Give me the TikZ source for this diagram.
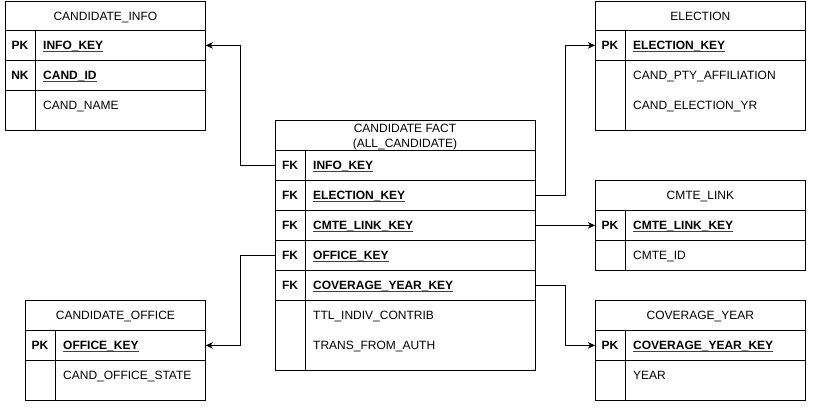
\documentclass[tikz,border=0pt]{standalone}
\usepackage{fontspec}
\setmainfont{Liberation Sans}
\usetikzlibrary{arrows.meta}
\newcommand\dfont{\fontsize{12}{14}\selectfont}
\newcommand\keyul[1]{\setbox0\hbox{\bfseries #1}\rlap{\color{black!75}\rule[-2.6pt]{\wd0}{0.9pt}}\box0}
\tikzset{
  cell/.style={draw, line width=0.8pt, anchor=north west, inner sep=0pt, minimum height=30,
    text height=8.6pt, text depth=0pt, font=\dfont},
  keyc/.style={anchor=center, inner sep=0pt, text height=8.6pt, text depth=0pt, font=\dfont\bfseries},
  fld/.style={anchor=west, inner sep=0pt, text height=8.6pt, text depth=0pt, font=\dfont},
  ttl/.style={anchor=center, inner sep=0pt, text height=8.6pt, text depth=0pt, font=\dfont},
  sep/.style={line width=0.8pt},
  conn/.style={line width=0.8pt, -{Stealth[length=7pt,width=6.5pt,inset=2pt]}}
}
\begin{document}
\begin{tikzpicture}[x=1pt,y=-1pt]
\useasboundingbox (0,0) rectangle (814,410);

% CANDIDATE_INFO
\node[cell, minimum width=200, minimum height=29] (info-h) at (5,1) {CANDIDATE\_INFO};
\node[cell, minimum width=200] (info-pk) at (5,30) {};
\node[cell, minimum width=200] (info-nk) at (5,60) {};
\node[cell, minimum width=200, minimum height=40] (info-b) at (5,90) {};
\draw[sep] (35,30) -- (35,130);
\node[keyc] (info-k1) at (20,45) {PK};
\node[fld] (info-f1) at (43,45) {\keyul{INFO\_KEY}};
\node[keyc] (info-k2) at (20,75) {NK};
\node[fld] (info-f2) at (43,75) {\keyul{CAND\_ID}};
\node[fld] (info-f3) at (43,105) {CAND\_NAME};

% ELECTION
\node[cell, minimum width=210, minimum height=29] (elec-h) at (595,1) {ELECTION};
\node[cell, minimum width=210] (elec-pk) at (595,30) {};
\node[cell, minimum width=210, minimum height=70] (elec-b) at (595,60) {};
\draw[sep] (625,30) -- (625,130);
\node[keyc] (elec-k1) at (610,45) {PK};
\node[fld] (elec-f1) at (633,45) {\keyul{ELECTION\_KEY}};
\node[fld] (elec-f2) at (633,75) {CAND\_PTY\_AFFILIATION};
\node[fld] (elec-f3) at (633,105) {CAND\_ELECTION\_YR};

% CMTE_LINK
\node[cell, minimum width=210] (cmte-h) at (595,180) {CMTE\_LINK};
\node[cell, minimum width=210] (cmte-pk) at (595,210) {};
\node[cell, minimum width=210] (cmte-b) at (595,240) {};
\draw[sep] (625,210) -- (625,270);
\node[keyc] (cmte-k1) at (610,225) {PK};
\node[fld] (cmte-f1) at (633,225) {\keyul{CMTE\_LINK\_KEY}};
\node[fld] (cmte-f2) at (633,255) {CMTE\_ID};

% COVERAGE_YEAR
\node[cell, minimum width=210] (cov-h) at (595,300) {COVERAGE\_YEAR};
\node[cell, minimum width=210] (cov-pk) at (595,330) {};
\node[cell, minimum width=210, minimum height=40] (cov-b) at (595,360) {};
\draw[sep] (625,330) -- (625,400);
\node[keyc] (cov-k1) at (610,345) {PK};
\node[fld] (cov-f1) at (633,345) {\keyul{COVERAGE\_YEAR\_KEY}};
\node[fld] (cov-f2) at (633,375) {YEAR};

% CANDIDATE_OFFICE
\node[cell, minimum width=180] (off-h) at (25,300) {CANDIDATE\_OFFICE};
\node[cell, minimum width=180] (off-pk) at (25,330) {};
\node[cell, minimum width=180, minimum height=40] (off-b) at (25,360) {};
\draw[sep] (55,330) -- (55,400);
\node[keyc] (off-k1) at (40,345) {PK};
\node[fld] (off-f1) at (63,345) {\keyul{OFFICE\_KEY}};
\node[fld] (off-f2) at (63,375) {CAND\_OFFICE\_STATE};

% CANDIDATE FACT
\node[cell, minimum width=260] (fact-h) at (275,120) {};
\node[ttl] (fact-t1) at (405,128) {CANDIDATE FACT};
\node[ttl] (fact-t2) at (405,143) {(ALL\_CANDIDATE)};
\node[cell, minimum width=260] (fact-info) at (275,150) {};
\node[cell, minimum width=260] (fact-elec) at (275,180) {};
\node[cell, minimum width=260] (fact-cmte) at (275,210) {};
\node[cell, minimum width=260] (fact-off) at (275,240) {};
\node[cell, minimum width=260] (fact-cov) at (275,270) {};
\node[cell, minimum width=260, minimum height=70] (fact-b) at (275,300) {};
\draw[sep] (305,150) -- (305,370);
\node[keyc] (fact-k1) at (290,165) {FK};
\node[fld] (fact-f1) at (313,165) {\keyul{INFO\_KEY}};
\node[keyc] (fact-k2) at (290,195) {FK};
\node[fld] (fact-f2) at (313,195) {\keyul{ELECTION\_KEY}};
\node[keyc] (fact-k3) at (290,225) {FK};
\node[fld] (fact-f3) at (313,225) {\keyul{CMTE\_LINK\_KEY}};
\node[keyc] (fact-k4) at (290,255) {FK};
\node[fld] (fact-f4) at (313,255) {\keyul{OFFICE\_KEY}};
\node[keyc] (fact-k5) at (290,285) {FK};
\node[fld] (fact-f5) at (313,285) {\keyul{COVERAGE\_YEAR\_KEY}};
\node[fld] (fact-f6) at (313,315) {TTL\_INDIV\_CONTRIB};
\node[fld] (fact-f7) at (313,345) {TRANS\_FROM\_AUTH};

% connectors
\draw[conn] (fact-info.west) -- ++(-35,0) |- (info-pk.east);
\draw[conn] (fact-elec.east) -- ++(30,0) |- (elec-pk.west);
\draw[conn] (fact-cmte.east) -- (cmte-pk.west);
\draw[conn] (fact-off.west) -- ++(-35,0) |- (off-pk.east);
\draw[conn] (fact-cov.east) -- ++(30,0) |- (cov-pk.west);
\end{tikzpicture}
\end{document}
